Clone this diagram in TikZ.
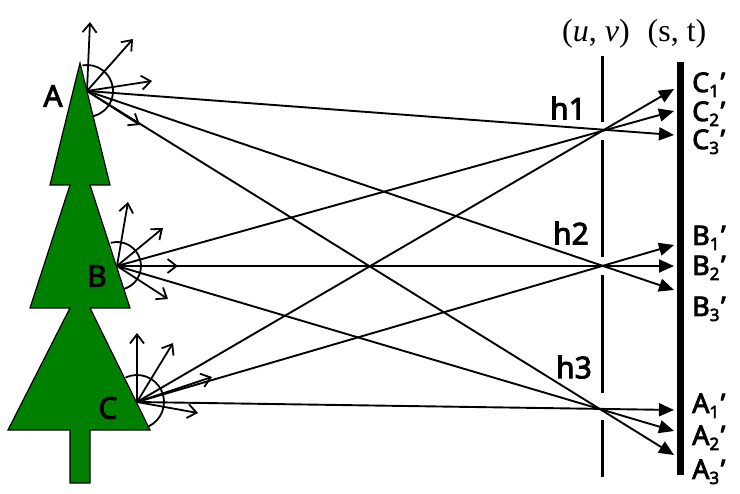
\documentclass[tikz,border=0pt]{standalone}
\usepackage{fontspec}
\setmainfont{Noto Sans}
\newfontfamily\lblfont{Noto Sans}[FakeBold=3,Ligatures=TeX]
\newfontfamily\serifont{Liberation Serif}
\usetikzlibrary{arrows.meta}
\definecolor{treegreen}{RGB}{0,128,0}
\newcommand{\imgpt}[2]{#1\raisebox{-5pt}{\fontsize{17}{17}\selectfont #2}\kern1.5pt'}

\tikzset{
  ray/.style={line width=1.9pt,-{Triangle[length=15pt,width=13pt]}},
  dirarrow/.style={line width=1.8pt,-{Straight Barb[length=9pt,width=14pt]}},
  ptlbl/.style={font=\lblfont\fontsize{30}{30}\selectfont},
  imglbl/.style={anchor=base west,inner sep=0pt,font=\lblfont\fontsize{27}{27}\selectfont},
}

\begin{document}
\begin{tikzpicture}[x=1pt,y=-1pt]
  \useasboundingbox (0,0) rectangle (740,494);
  % points on the tree
  \coordinate (A) at (87,91);
  \coordinate (B) at (117,266);
  \coordinate (C) at (137,402);
  % holes in the (u,v) plane
  \coordinate (h1) at (604,130);
  \coordinate (h2) at (602,266);
  \coordinate (h3) at (599,409);
  % where the rays hit the (s,t) plane
  \coordinate (tC1) at (674,89);
  \coordinate (tC2) at (674,111);
  \coordinate (tC3) at (674,135);
  \coordinate (tB1) at (674,245);
  \coordinate (tB2) at (674,266);
  \coordinate (tB3) at (674,290);
  \coordinate (tA1) at (674,410);
  \coordinate (tA2) at (674,431);
  \coordinate (tA3) at (674,455);
  % short direction arrows
  \coordinate (a1) at (90,22);
  \coordinate (a2) at (133,39);
  \coordinate (a3) at (152,81);
  \coordinate (a4) at (140,125);
  \coordinate (b1) at (128,202);
  \coordinate (b2) at (163,228);
  \coordinate (b3) at (178,266);
  \coordinate (b4) at (168,299);
  \coordinate (c1) at (137,333);
  \coordinate (c2) at (173,343);
  \coordinate (c3) at (212,377);
  \coordinate (c4) at (198,413);

  \draw[line width=1.8pt] (A) ++(-100:26) arc[start angle=-100,end angle=100,radius=26];
  \draw[line width=1.8pt] (B) ++(-105:24) arc[start angle=-105,end angle=105,radius=24];
  \draw[line width=1.8pt] (C) ++(-115:27) arc[start angle=-115,end angle=95,radius=27];

  % tree
  \draw[fill=treegreen,line width=1.2pt] (80,63) -- (110,185) -- (90,185) -- (130,308)
    -- (90,308) -- (150,430) -- (90,430) -- (90,483) -- (70,483) -- (70,430) -- (8,430)
    -- (70,308) -- (30,308) -- (70,185) -- (50,185) -- cycle;

  \foreach \e in {a1,a2,a3,a4} \draw[dirarrow] (A) -- (\e);
  \foreach \e in {b1,b2,b3,b4} \draw[dirarrow] (B) -- (\e);
  \foreach \e in {c1,c2,c3,c4} \draw[dirarrow] (C) -- (\e);

  \draw[ray] (A) -- (tC3);
  \draw[ray] (A) -- (tB3);
  \draw[ray] (A) -- (tA3);
  \draw[ray] (B) -- (tC2);
  \draw[ray] (B) -- (tB2);
  \draw[ray] (B) -- (tA2);
  \draw[ray] (C) -- (tC1);
  \draw[ray] (C) -- (tB1);
  \draw[ray] (C) -- (tA1);

  % the two planes
  \draw[line width=3pt] (602,56) -- (602,122);
  \draw[line width=3pt] (602,140) -- (602,257);
  \draw[line width=3pt] (602,275) -- (602,393);
  \draw[line width=3pt] (602,420) -- (602,477);
  \draw[line width=7pt] (680,62) -- (680,475);

  \node[ptlbl] (lblA) at (53,96) {A};
  \node[ptlbl] (lblB) at (97,276) {B};
  \node[ptlbl] (lblC) at (108,408) {C};
  \node[ptlbl] (lblh1) at (568,108) {h1};
  \node[ptlbl] (lblh2) at (571,233) {h2};
  \node[ptlbl] (lblh3) at (574,367) {h3};
  \node[font=\serifont\fontsize{32}{32}\selectfont] (uvlbl) at (596,34) {(\textit{u}, \textit{v})};
  \node[font=\serifont\fontsize{32}{32}\selectfont] (stlbl) at (677,34) {(s, t)};

  \node[imglbl] (lC1) at (692,92) {\imgpt{C}{1}};
  \node[imglbl] (lC2) at (692,121) {\imgpt{C}{2}};
  \node[imglbl] (lC3) at (692,149) {\imgpt{C}{3}};
  \node[imglbl] (lB1) at (692,245) {\imgpt{B}{1}};
  \node[imglbl] (lB2) at (692,275) {\imgpt{B}{2}};
  \node[imglbl] (lB3) at (692,316) {\imgpt{B}{3}};
  \node[imglbl] (lA1) at (692,413) {\imgpt{A}{1}};
  \node[imglbl] (lA2) at (692,445) {\imgpt{A}{2}};
  \node[imglbl] (lA3) at (692,479) {\imgpt{A}{3}};
\end{tikzpicture}
\end{document}
